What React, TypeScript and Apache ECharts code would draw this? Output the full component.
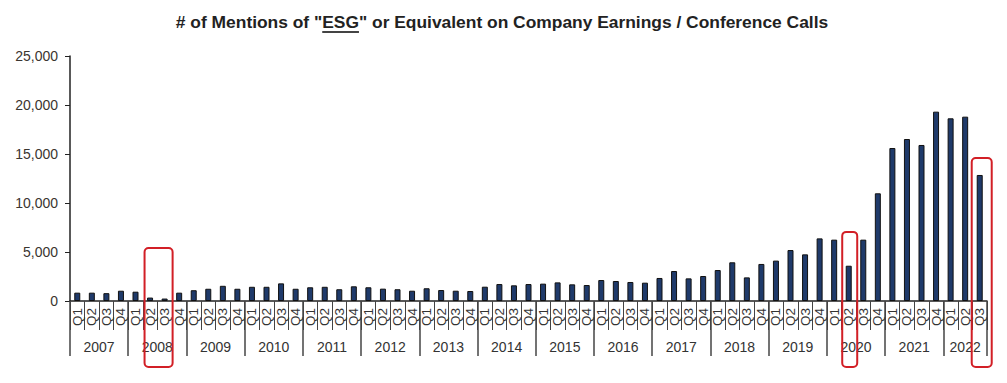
import React, { useEffect, useRef } from 'react';
import * as echarts from 'echarts';

const years = ['2007','2008','2009','2010','2011','2012','2013','2014','2015','2016','2017','2018','2019','2020','2021','2022'];
const quarters = ['Q1','Q2','Q3','Q4'];
const mentions = [
  850, 850, 800, 1050,
  950, 350, 250, 850,
  1100, 1250, 1550, 1250,
  1450, 1450, 1800, 1250,
  1400, 1450, 1200, 1500,
  1400, 1260, 1200, 1050,
  1300, 1120, 1050, 1020,
  1460, 1730, 1600, 1730,
  1770, 1900, 1700, 1630,
  2140, 2040, 1940, 1870,
  2350, 3060, 2310, 2550,
  3160, 3950, 2410, 3780,
  4120, 5200, 4760, 6390,
  6260, 3600, 6260, 10990,
  15610, 16530, 15920, 19320,
  18640, 18810, 12860,
];
const yMin = 0;
const yMax = 25000;
const yInterval = 5000;
const titleParts = ['# of Mentions of "', 'ESG', '" or Equivalent on Company Earnings / Conference Calls'];
// highlighted categories: index range and the value level of the box top
const highlightFrom = [5, 53, 62];
const highlightTo = [6, 53, 62];
const highlightTop = [5400, 7050, 14600];
const highlightPadL = [5.5, 6.5, 8];
const highlightPadR = [8, 8.5, 12];

const catYears: string[] = [];
const catQuarters: string[] = [];
years.forEach((y) => quarters.forEach((q) => { catYears.push(y); catQuarters.push(q); }));
const nCats = mentions.length;
const qLabels = catQuarters.slice(0, nCats);
const yLabels = catYears.slice(0, nCats);

export default function App() {
  const ref = useRef<HTMLDivElement>(null);
  useEffect(() => {
    const chart = echarts.init(ref.current!, null, { renderer: 'svg' });
    const font = 'Liberation Sans';
    const option: any = {
      animation: false,
      grid: { left: 70, right: 20, top: 56, bottom: 82, containLabel: false },
      xAxis: [
        {
          type: 'category',
          data: qLabels,
          position: 'bottom',
          axisLine: { show: true, lineStyle: { color: '#222', width: 1.5 } },
          axisTick: { show: true, interval: 0, length: 29, lineStyle: { color: '#444' } },
          axisLabel: { interval: 0, rotate: 90, fontSize: 13.5, color: '#333', margin: 7, fontFamily: font },
        },
        {
          type: 'category',
          data: yLabels,
          position: 'bottom',
          axisLine: { show: false },
          axisTick: { show: true, interval: (i: number) => i % 4 === 0, length: 55, lineStyle: { color: '#444', width: 1.5 } },
          axisLabel: {
            interval: (i: number) => i % 4 === 1,
            margin: 39,
            fontSize: 14,
            color: '#333',
            fontFamily: font,
            formatter: (v: string, i: number) => (i + 3 <= nCats - 1 ? '{a|' + v + '}' : '{b|' + v + '}'),
            rich: {
              a: { padding: [0, 0, 0, 14.5], fontSize: 14, color: '#333', fontFamily: font },
              b: { fontSize: 14, color: '#333', fontFamily: font },
            },
          },
        },
      ],
      yAxis: {
        type: 'value',
        min: yMin,
        max: yMax,
        interval: yInterval,
        splitLine: { show: false },
        axisLine: { show: true, lineStyle: { color: '#222', width: 1.5 } },
        axisTick: { show: true, length: 5, lineStyle: { color: '#222' } },
        axisLabel: {
          fontSize: 14,
          color: '#3a3530',
          margin: 12,
          fontFamily: font,
          formatter: (v: number) => v.toLocaleString('en-US'),
        },
      },
      series: [
        {
          type: 'bar',
          data: mentions,
          barWidth: 6,
          itemStyle: { color: '#1F3A6A', borderColor: '#111', borderWidth: 1 },
        },
      ],
    };
    chart.setOption(option);

    const canvas = document.createElement('canvas');
    const ctx = canvas.getContext('2d')!;
    const titleFont = 'bold 17.4px "Liberation Sans"';
    ctx.font = titleFont;
    const w0 = ctx.measureText(titleParts[0]).width;
    const w1 = ctx.measureText(titleParts[1]).width;
    const wAll = ctx.measureText(titleParts.join('')).width;
    const titleCx = 502;
    const titleY = 22;
    const tLeft = titleCx - wAll / 2;

    const graphics: any[] = [
      {
        type: 'text',
        x: tLeft,
        y: titleY,
        style: { text: titleParts.join(''), font: titleFont, fill: '#222', textAlign: 'left', textVerticalAlign: 'middle' },
      },
      {
        type: 'line',
        shape: { x1: tLeft + w0, y1: titleY + 10, x2: tLeft + w0 + w1, y2: titleY + 10 },
        style: { stroke: '#444', lineWidth: 2 },
      },
    ];
    const base = chart.convertToPixel({ xAxisIndex: 0, yAxisIndex: 0 }, [0, 0]) as number[];
    highlightFrom.forEach((f, k) => {
      const p1 = chart.convertToPixel({ xAxisIndex: 0, yAxisIndex: 0 }, [f, highlightTop[k]]) as number[];
      const p2 = chart.convertToPixel({ xAxisIndex: 0, yAxisIndex: 0 }, [highlightTo[k], highlightTop[k]]) as number[];
      const x = p1[0] - highlightPadL[k];
      const w = p2[0] + highlightPadR[k] - x;
      const y = p1[1];
      const h = base[1] + 66 - y;
      graphics.push({
        type: 'rect',
        shape: { x, y, width: w, height: h, r: 4 },
        style: { fill: 'none', stroke: '#D21F26', lineWidth: 2 },
        z: 100,
      });
    });
    chart.setOption({ graphic: graphics });
    return () => chart.dispose();
  }, []);
  return <div ref={ref} style={{ position: 'absolute', left: 0, top: 0, width: 1007, height: 383 }} />;
}
